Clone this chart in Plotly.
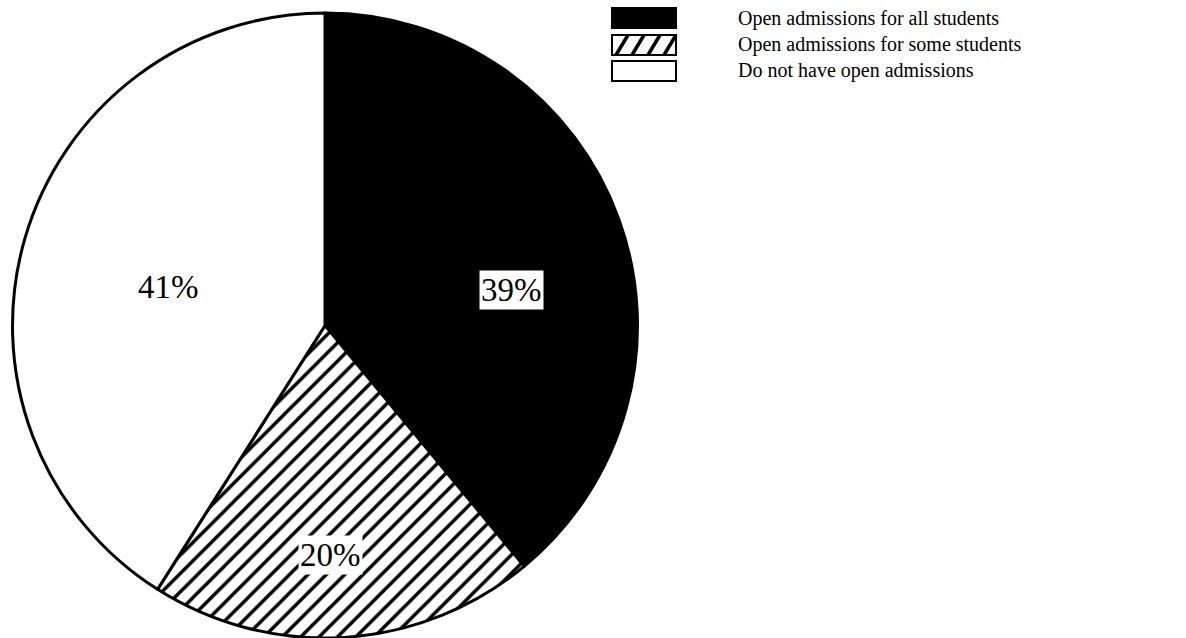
import plotly.graph_objects as go

# Share of institutions by open-admissions policy
categories = [
    "Open admissions for all students",
    "Open admissions for some students",
    "Do not have open admissions",
]
shares = [39, 20, 41]

W, H = 1186, 638
SERIF = "Liberation Serif, Times New Roman, serif"


def px(x):
    return x / W


def py(y):
    return 1 - y / H


fill_colors = ["#000000", "#ffffff", "#ffffff"]
patterns = ["", "/", ""]

fig = go.Figure(
    go.Pie(
        labels=categories,
        values=shares,
        sort=False,
        direction="clockwise",
        rotation=0,
        textinfo="none",
        hoverinfo="skip",
        showlegend=False,
        marker=dict(
            colors=fill_colors,
            line=dict(color="#000000", width=3),
            pattern=dict(
                shape=patterns,
                fgcolor="#000000",
                size=13,
                solidity=0.27,
            ),
        ),
        domain=dict(x=[px(10), px(640)], y=[0, py(13)]),
    )
)

# Percentage labels inside the slices (white backing keeps them legible)
label_xy = [(511, 290), (330, 555), (168, 287)]
label_bg = ["#ffffff", "#ffffff", "rgba(0,0,0,0)"]
annotations = []
for val, (lx, ly), bg in zip(shares, label_xy, label_bg):
    annotations.append(
        dict(
            x=px(lx), y=py(ly), xref="paper", yref="paper",
            text=f"{val}%", showarrow=False,
            xanchor="center", yanchor="middle",
            font=dict(family=SERIF, size=33, color="#000000"),
            bgcolor=bg,
            borderpad=1,
        )
    )

# Legend drawn as swatches with text beside them
shapes = []
sw_x0, sw_x1 = 612, 676
row_y = [18, 45, 71]
sw_h = 20
for i, (name, color) in enumerate(zip(categories, fill_colors)):
    y0, y1 = row_y[i] - sw_h / 2, row_y[i] + sw_h / 2
    shapes.append(
        dict(
            type="rect", xref="paper", yref="paper",
            x0=px(sw_x0), x1=px(sw_x1), y0=py(y1), y1=py(y0),
            fillcolor=color, line=dict(color="#000000", width=2),
        )
    )
    if patterns[i] == "/":
        step, lean = 16, 12
        start = sw_x0 + 4
        while start < sw_x1:
            xa, xb = start, start + lean
            ya, yb = y1, y0
            if xb > sw_x1:
                frac = (sw_x1 - xa) / lean
                xb = sw_x1
                yb = y1 - frac * (y1 - y0)
            shapes.append(
                dict(
                    type="line", xref="paper", yref="paper",
                    x0=px(xa), y0=py(ya), x1=px(xb), y1=py(yb),
                    line=dict(color="#000000", width=3.5),
                )
            )
            start += step
    annotations.append(
        dict(
            x=px(736), y=py(row_y[i]), xref="paper", yref="paper",
            text=name, showarrow=False,
            xanchor="left", yanchor="middle",
            font=dict(family=SERIF, size=20, color="#000000"),
        )
    )

fig.update_layout(
    width=W,
    height=H,
    margin=dict(l=0, r=0, t=0, b=0),
    paper_bgcolor="#ffffff",
    plot_bgcolor="#ffffff",
    annotations=annotations,
    shapes=shapes,
)

fig.write_html("out.html", config={"displayModeBar": False})
